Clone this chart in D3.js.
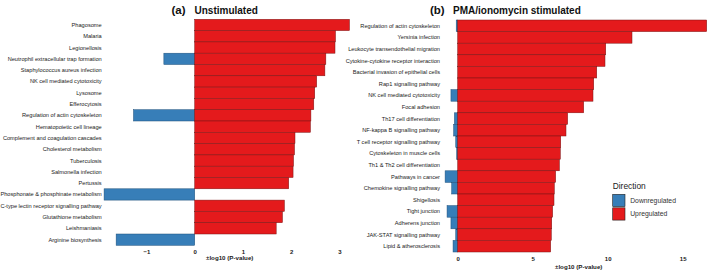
<!DOCTYPE html>
<html>
<head>
<meta charset="utf-8">
<script src="https://cdn.jsdelivr.net/npm/d3@7"></script>
<style>
  body { margin: 0; background: #fff; }
  text { font-family: "Liberation Sans", Arial, sans-serif; }
</style>
</head>
<body>
<div id="chart"></div>
<script>
let width = 709,
height = 272;

// panel (a) unstimulated
const termsA = ["Phagosome", "Malaria", "Legionellosis", "Neutrophil extracellular trap formation",
  "Staphylococcus aureus infection", "NK cell mediated cytotoxicity", "Lysosome", "Efferocytosis",
  "Regulation of actin cytoskeleton", "Hematopoietic cell lineage", "Complement and coagulation cascades",
  "Cholesterol metabolism", "Tuberculosis", "Salmonella infection", "Pertussis",
  "Phosphonate & phosphinate metabolism", "C-type lectin receptor signalling pathway",
  "Glutathione metabolism", "Leishmaniasis", "Arginine biosynthesis"];
const upA = [3.21, 2.92, 2.91, 2.72, 2.70, 2.53, 2.49, 2.47, 2.41, 2.40, 2.08, 2.07, 2.05, 2.04, 1.95,
  0, 1.86, 1.82, 1.69, 0];
const downA = [0, 0, 0, -0.64, 0, 0, 0, 0, -1.27, 0, 0, 0, 0, 0, 0, -1.88, 0, 0, 0, -1.63];

// panel (b) PMA/ionomycin
const termsB = ["Regulation of actin cytoskeleton", "Yersinia infection", "Leukocyte transendothelial migration",
  "Cytokine-cytokine receptor interaction", "Bacterial invasion of epithelial cells", "Rap1 signalling pathway",
  "NK cell mediated cytotoxicity", "Focal adhesion", "Th17 cell differentiation", "NF-kappa B signalling pathway",
  "T cell receptor signalling pathway", "Cytoskeleton in muscle cells", "Th1 & Th2 cell differentiation",
  "Pathways in cancer", "Chemokine signalling pathway", "Shigellosis", "Tight junction", "Adherens junction",
  "JAK-STAT signalling pathway", "Lipid & atherosclerosis"];
const upB = [16.6, 11.62, 9.87, 9.82, 9.27, 9.07, 9.02, 8.4, 7.33, 7.22, 6.87, 6.84, 6.78, 6.53, 6.44,
  6.42, 6.33, 6.27, 6.24, 6.2];
const downB = [-0.1, 0, 0, 0, 0, 0, -0.45, 0, -0.22, -0.27, -0.13, -0.07, 0, -0.84, -0.4, 0, -0.71, -0.45,
  -0.13, -0.31];

const ticksA = [-1, 0, 1, 2, 3];
const ticksB = [0, 5, 10, 15];

const red = "#e41a1c", blue = "#377eb8";

let svg = d3.select("#chart")
  .append("svg")
  .attr("width", width)
  .attr("height", height);

function panel(terms, up, down, ticks, o) {
  let x = d3.scaleLinear().domain(o.domain).range(o.range);
  let y = d3.scaleBand().domain(terms).range([o.top, o.bottom]).padding(0);

  let g = svg.append("g");

  // row labels
  g.selectAll(".lab")
    .data(terms)
    .join("text")
    .attr("x", o.labelX)
    .attr("y", d => y(d) + y.bandwidth() / 2)
    .attr("dy", "0.35em")
    .attr("text-anchor", "end")
    .attr("font-size", 5.65)
    .attr("fill", "#1a1a1a")
    .text(d => d);

  let rows = terms.map((t, i) => ({ t: t, up: up[i], down: down[i] }));

  g.selectAll(".down")
    .data(rows.filter(d => d.down < 0))
    .join("rect")
    .attr("x", d => x(d.down))
    .attr("y", d => y(d.t))
    .attr("width", d => x(0) - x(d.down))
    .attr("height", y.bandwidth())
    .attr("fill", blue)
    .attr("stroke", "#1d4f7a")
    .attr("stroke-width", 0.5);

  g.selectAll(".up")
    .data(rows.filter(d => d.up > 0))
    .join("rect")
    .attr("x", x(0))
    .attr("y", d => y(d.t))
    .attr("width", d => x(d.up) - x(0))
    .attr("height", y.bandwidth())
    .attr("fill", red)
    .attr("stroke", "#7a1414")
    .attr("stroke-width", 0.5);

  // x axis, labels only
  let ax = g.append("g")
    .attr("transform", `translate(0,${o.tickY})`)
    .call(d3.axisBottom(x).tickValues(ticks).tickFormat(d3.format("d")).tickSize(0).tickPadding(0));
  ax.select(".domain").remove();
  ax.selectAll("text")
    .attr("font-size", 6)
    .attr("font-weight", "bold")
    .attr("fill", "#1a1a1a")
    .attr("font-family", "Liberation Sans, Arial, sans-serif");

  g.append("text")
    .attr("x", o.titleX)
    .attr("y", o.titleY)
    .attr("text-anchor", "middle")
    .attr("font-size", 6.2)
    .attr("font-weight", "bold")
    .attr("fill", "#1a1a1a")
    .text("±log10 (P-value)");

  g.append("text")
    .attr("x", o.headX)
    .attr("y", 14)
    .attr("font-size", 11.5)
    .attr("font-weight", "bold")
    .attr("fill", "#111")
    .text(o.letter);
  g.append("text")
    .attr("x", o.headX + 23)
    .attr("y", 14)
    .attr("font-size", 10)
    .attr("font-weight", "bold")
    .attr("fill", "#111")
    .text(o.head);
}

panel(termsA, upA, downA, ticksA, {
  domain: [-2, 3.3], range: [98.3, 353.8], top: 19.3, bottom: 245.3,
  labelX: 101.7, tickY: 249.5, titleX: 229.7, titleY: 260, headX: 171.5,
  letter: "(a)", head: "Unstimulated"
});

panel(termsB, upB, downB, ticksB, {
  domain: [-1, 17], range: [442.7, 712.7], top: 20, bottom: 252,
  labelX: 440, tickY: 257, titleX: 578.7, titleY: 268.5, headX: 430,
  letter: "(b)", head: "PMA/ionomycin stimulated"
});

// legend
const legendKeys = ["Downregulated", "Upregulated"];
const legendColors = [blue, red];
let lg = svg.append("g").attr("transform", "translate(612.7,0)");
lg.append("text")
  .attr("x", 0)
  .attr("y", 188.5)
  .attr("font-size", 8.4)
  .attr("fill", "#222")
  .text("Direction");
lg.selectAll("rect")
  .data(legendKeys)
  .join("rect")
  .attr("x", 0)
  .attr("y", (d, i) => 194.3 + i * 13.5)
  .attr("width", 12.3)
  .attr("height", 12.3)
  .attr("fill", (d, i) => legendColors[i])
  .attr("stroke", "#222")
  .attr("stroke-width", 0.6);
lg.selectAll(".lt")
  .data(legendKeys)
  .join("text")
  .attr("x", 17.5)
  .attr("y", (d, i) => 200.5 + i * 13.5)
  .attr("dy", "0.35em")
  .attr("font-size", 6.8)
  .attr("fill", "#333")
  .text(d => d);
</script>
</body>
</html>
